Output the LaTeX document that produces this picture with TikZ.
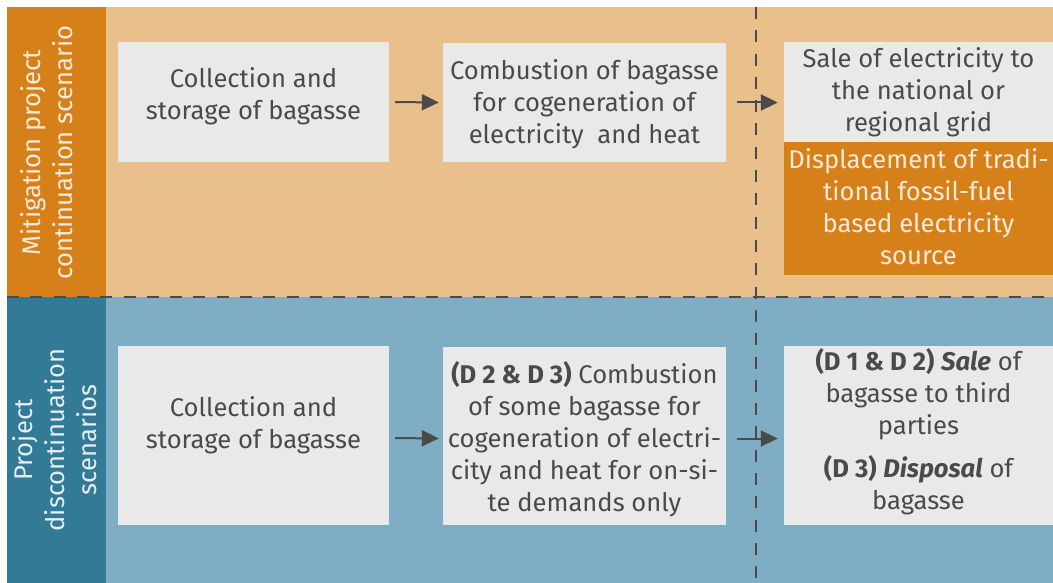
\documentclass[tikz,border=0pt]{standalone}
\usepackage{fontspec}
\setmainfont{Fira Sans}
\usetikzlibrary{arrows.meta}
\definecolor{mitdark}{HTML}{D6801A}
\definecolor{mitlight}{HTML}{E9C08C}
\definecolor{disdark}{HTML}{327A96}
\definecolor{dislight}{HTML}{7FADC3}
\definecolor{boxgray}{HTML}{E9E9E9}
\definecolor{ink}{HTML}{4A4A4A}
\definecolor{palemit}{HTML}{F6EADB}
\definecolor{paledis}{HTML}{E4EEF3}
\tikzset{
  txt/.style={font=\fontsize{25.6}{32}\selectfont},
  stepbox/.style={fill=boxgray, inner sep=0pt},
  effectbox/.style={fill=mitdark, inner sep=0pt},
  steptext/.style={txt, text=ink, align=center, inner sep=0pt},
  effecttext/.style={txt, text=palemit, align=center, inner sep=0pt},
  sidelabel/.style={txt, rotate=90, align=center, inner sep=0pt},
  flow/.style={draw=ink, line width=2pt, -{Triangle[length=17pt,width=16pt]}},
  divider/.style={draw=ink, line width=2pt, dash pattern=on 12pt off 11.3pt}
}
\begin{document}
\begin{tikzpicture}[x=1pt,y=-1pt]
\useasboundingbox (0,0) rectangle (1053,583);
% scenario bands
\fill[mitlight] (7,7) rectangle (1053,297);
\fill[mitdark] (7,7) rectangle (106,297);
\fill[dislight] (7,297) rectangle (1053,583);
\fill[disdark] (7,297) rectangle (106,583);
% band labels
\node[sidelabel, text=palemit] (lblmit) at (47,152.5) {Mitigation project\\continuation scenario};
\node[sidelabel, text=paledis] (lbldis) at (55,440) {Project\\discontinuation\\scenarios};
% dividers
\draw[divider] (7,297) -- (1053,297);
\draw[divider] (756,7) -- (756,583);
% mitigation scenario chain
\node[stepbox, minimum width=271, minimum height=120] (mc1) at (253.5,102) {};
\node[steptext, yshift=6pt] (mc1t) at (mc1.center) {Collection and\\storage of bagasse};
\node[stepbox, minimum width=283, minimum height=119] (mc2) at (584.5,102.5) {};
\node[steptext, yshift=-1.5pt] (mc2t) at (mc2.center) {Combustion of bagasse\\for cogeneration of\\electricity\ \ and heat};
\node[stepbox, minimum width=269, minimum height=100] (sale) at (918.5,92) {};
\node[steptext] (salet) at (sale.center) {Sale of electricity to\\the national or\\regional grid};
\node[effectbox, minimum width=269, minimum height=133] (displ) at (918.5,208.5) {};
\node[effecttext, yshift=2pt] (displt) at (displ.center) {Displacement of tradi-\\tional fossil-fuel\\based electricity\\source};
\draw[flow, shorten <=6pt, shorten >=4pt] (mc1.east) -- (mc2.west);
\draw[flow, shorten <=11pt, shorten >=6pt] (mc2.east) -- (mc2.east -| sale.west);
% discontinuation scenario chain
\node[stepbox, minimum width=271, minimum height=179] (dc1) at (253.5,435.5) {};
\node[steptext, yshift=10pt] (dc1t) at (dc1.center) {Collection and\\storage of bagasse};
\node[stepbox, minimum width=283, minimum height=178] (dc2) at (584.5,436) {};
\node[steptext, yshift=-3pt] (dc2t) at (dc2.center) {\textbf{(D 2 \& D 3)} Combustion\\of some bagasse for\\cogeneration of electri-\\city and heat for on-si-\\te demands only};
\node[stepbox, minimum width=269, minimum height=179] (dout) at (918.5,435.5) {};
\node[steptext, yshift=3.5pt] (doutt) at (dout.center) {\textbf{(D 1 \& D 2)} \textbf{\textit{Sale}} of\\bagasse to third\\parties\\[11pt]\textbf{(D 3)} \textbf{\textit{Disposal}} of\\bagasse};
\draw[flow, shorten <=6pt, shorten >=4pt] ([yshift=-2.5pt]dc1.east) -- ([yshift=-2.5pt]dc2.west);
\draw[flow, shorten <=11pt, shorten >=6pt] ([yshift=-2.5pt]dc2.east) -- ([yshift=-2.5pt]dc2.east -| dout.west);
\end{tikzpicture}
\end{document}
